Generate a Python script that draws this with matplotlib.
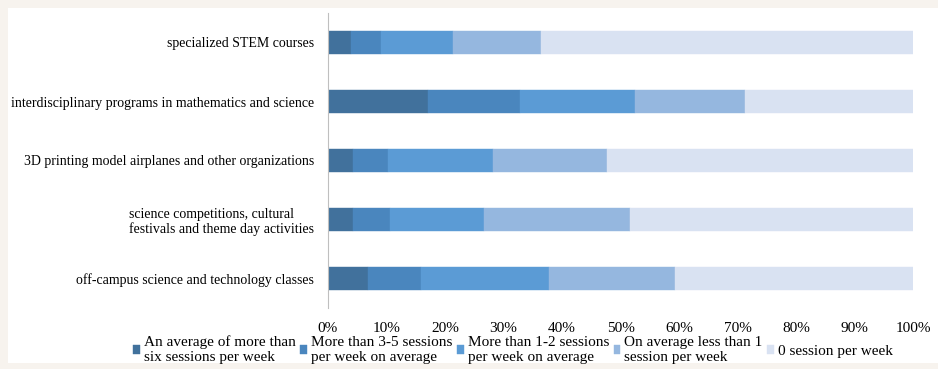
import matplotlib
matplotlib.use("Agg")
import matplotlib.pyplot as plt
from matplotlib.patches import Rectangle
from matplotlib.ticker import PercentFormatter

plt.rcParams['font.family'] = ['Liberation Serif', 'DejaVu Serif']

# activities, listed top to bottom
activities = [
    "specialized STEM courses",
    "interdisciplinary programs in mathematics and science",
    "3D printing model airplanes and other organizations",
    "science competitions, cultural\nfestivals and theme day activities",
    "off-campus science and technology classes",
]

# share of students (%) per frequency group
six_plus = [3.9, 17.1, 4.2, 4.3, 6.8]
three_five = [5.1, 15.7, 6.1, 6.3, 9.1]
one_two = [12.3, 19.7, 17.9, 16.1, 21.8]
less_one = [15.1, 18.7, 19.5, 24.9, 21.7]
zero = [63.6, 28.8, 52.3, 48.4, 40.6]

series = [six_plus, three_five, one_two, less_one, zero]
labels = [
    "An average of more than\nsix sessions per week",
    "More than 3-5 sessions\nper week on average",
    "More than 1-2 sessions\nper week on average",
    "On average less than 1\nsession per week",
    "0 session per week",
]
colors = ["#41719c", "#4a86be", "#5b9bd5", "#95b7df", "#d9e2f2"]

fig = plt.figure(figsize=(9.38, 3.69), dpi=100)
fig.patch.set_facecolor("#f7f3ee")
# white chart area inside the beige frame
fig.patches.append(Rectangle((8 / 938, 6 / 369), 930 / 938, 355 / 369,
                             transform=fig.transFigure, facecolor="white",
                             edgecolor="none", zorder=-5))

ax = fig.add_axes([328 / 938, 1 - 308 / 369, 585 / 938, 295 / 369])
ax.set_facecolor("none")

ypos = list(range(len(activities)))
left = [0.0] * len(activities)
for vals, lab, col in zip(series, labels, colors):
    ax.barh(ypos, vals, left=left, height=0.4, color=col, label=lab,
            edgecolor=col, linewidth=0.3)
    left = [a + b for a, b in zip(left, vals)]

ax.set_ylim(len(activities) - 0.5, -0.5)
ax.set_xlim(0, 100)
ax.set_yticks(ypos)
ax.set_yticklabels(activities, fontsize=10, multialignment="left",
                   linespacing=1.15)
ax.set_xticks(range(0, 101, 10))
ax.xaxis.set_major_formatter(PercentFormatter(decimals=0))
ax.tick_params(axis="x", length=0, labelsize=11, pad=10)
ax.tick_params(axis="y", length=0, pad=10)

for side in ["top", "right", "bottom"]:
    ax.spines[side].set_visible(False)
ax.spines["left"].set_color("#bfbfbf")

leg = fig.legend(loc="center", bbox_to_anchor=(513 / 938, 1 - 350 / 369),
                 ncol=5, frameon=False, fontsize=11, handlelength=0.45,
                 handleheight=0.45, handletextpad=0.25, columnspacing=0.3,
                 borderpad=0)
for t in leg.get_texts():
    t.set_linespacing(1.2)

fig.savefig("out.png", dpi=100, facecolor=fig.get_facecolor())
